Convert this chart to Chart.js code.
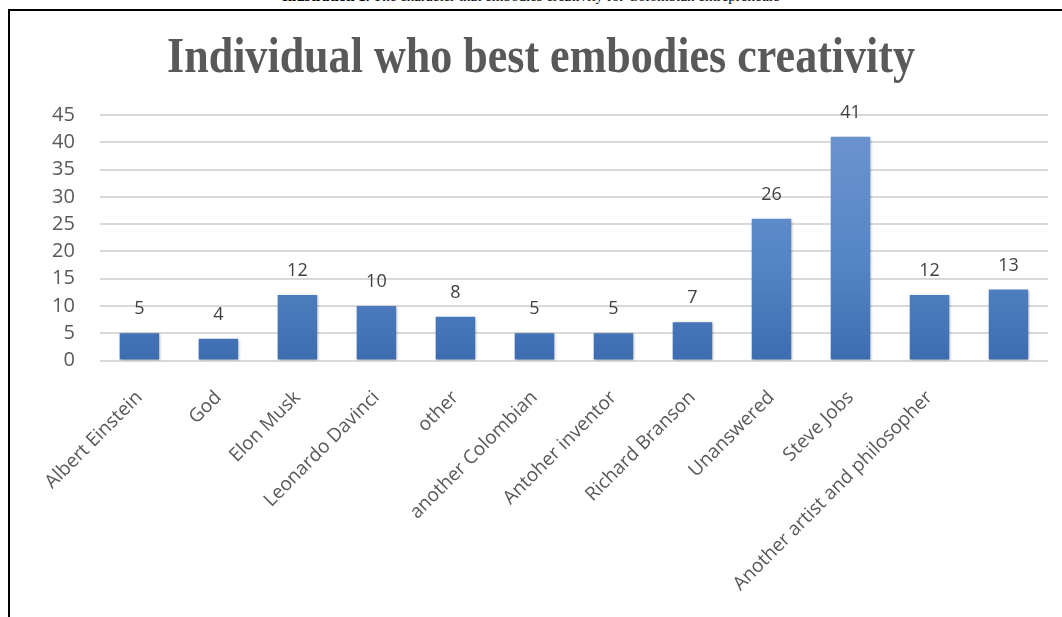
<!DOCTYPE html>
<html>
<head>
<meta charset="utf-8">
<script src="https://cdn.jsdelivr.net/npm/chart.js@4/dist/chart.umd.min.js"></script>
<style>
  html, body { margin: 0; padding: 0; background: #fff; overflow: hidden; }
  #caption {
    position: absolute; left: 0; width: 1062px; top: -12px;
    text-align: center; font: 15px "Liberation Serif", serif; color: #000;
  }
  #frame {
    position: absolute; left: 8px; top: 9px; width: 1100px; height: 700px;
    border-left: 2px solid #000; border-top: 2px solid #000;
  }
  #wrap { position: absolute; left: 0; top: 0; width: 1062px; height: 617px; }
</style>
</head>
<body>
<div id="caption"><b>Illustration 1.</b> The character that embodies creativity for Colombian entrepreneurs</div>
<div id="frame"></div>
<div id="wrap"><canvas id="grafico"></canvas></div>
<script>
// dados
const categorias = ['Albert Einstein', 'God', 'Elon Musk', 'Leonardo Davinci', 'other', 'another Colombian',
    'Antoher inventor', 'Richard Branson', 'Unanswered', 'Steve Jobs', 'Another artist and philosopher', ''];
const valores = [5, 4, 12, 10, 8, 5, 5, 7, 26, 41, 12, 13];
const ticksY = [0, 5, 10, 15, 20, 25, 30, 35, 40, 45];
const titulo = 'Individual who best embodies creativity';

// título (fonte serifada, um pouco condensada)
const tituloPlugin = {
    id: 'tituloPlugin',
    afterDraw(chart) {
        const ctx = chart.ctx;
        ctx.save();
        ctx.font = 'bold 50px "Liberation Serif", serif';
        ctx.fillStyle = '#595959';
        ctx.textBaseline = 'alphabetic';
        const w = ctx.measureText(titulo).width;
        const escala = 748 / w;
        ctx.translate(541, 72);
        ctx.scale(escala, 1);
        ctx.textAlign = 'center';
        ctx.fillText(titulo, 0, 0);
        ctx.restore();
    }
};

// rótulos em cima das barras
const rotulos = {
    id: 'rotulos',
    afterDatasetsDraw(chart) {
        const ctx = chart.ctx;
        const meta = chart.getDatasetMeta(0);
        ctx.save();
        ctx.font = '18px "Open Sans", sans-serif';
        ctx.fillStyle = '#404040';
        ctx.textAlign = 'center';
        ctx.textBaseline = 'bottom';
        meta.data.forEach((bar, i) => {
            ctx.fillText(valores[i], bar.x, bar.y - 15);
        });
        ctx.restore();
    }
};

// sombra leve nas barras
const sombra = {
    id: 'sombra',
    beforeDatasetsDraw(chart) {
        const ctx = chart.ctx;
        ctx.save();
        ctx.shadowColor = 'rgba(0,0,0,0.35)';
        ctx.shadowBlur = 3;
        ctx.shadowOffsetX = 1;
        ctx.shadowOffsetY = 1;
    },
    afterDatasetsDraw(chart) {
        chart.ctx.restore();
    }
};

function gradiente(context) {
    const area = context.chart.chartArea;
    if (!area) return '#4f81bd';
    const g = context.chart.ctx.createLinearGradient(0, area.top, 0, area.bottom);
    g.addColorStop(0, '#6f96cf');
    g.addColorStop(0.6, '#5585c6');
    g.addColorStop(1, '#3d6cb0');
    return g;
}

const ctx = document.getElementById('grafico').getContext('2d');
const grafico = new Chart(ctx, {
    type: 'bar',
    data: {
        labels: categorias,
        datasets: [{
            data: valores,
            backgroundColor: gradiente,
            categoryPercentage: 1,
            barPercentage: 0.5
        }]
    },
    plugins: [sombra, rotulos, tituloPlugin],
    options: {
        responsive: true,
        maintainAspectRatio: false,
        animation: false,
        layout: { padding: { left: 27, right: 14, top: 115, bottom: 11 } },
        plugins: {
            legend: { display: false },
            tooltip: { enabled: false },
            title: { display: false }
        },
        scales: {
            x: {
                grid: { display: false },
                border: { display: false },
                ticks: {
                    color: '#595959',
                    font: { family: '"Open Sans", sans-serif', size: 19 },
                    maxRotation: 45,
                    minRotation: 45,
                    padding: 18,
                    autoSkip: false
                }
            },
            y: {
                min: 0,
                max: 45,
                afterBuildTicks(axis) { axis.ticks = ticksY.map(v => ({ value: v })); },
                grid: { color: '#d9d9d9', lineWidth: 2, drawTicks: false },
                border: { display: false },
                ticks: {
                    color: '#595959',
                    font: { family: '"Open Sans", sans-serif', size: 20 },
                    padding: 25,
                    autoSkip: false
                }
            }
        }
    }
});
</script>
</body>
</html>
